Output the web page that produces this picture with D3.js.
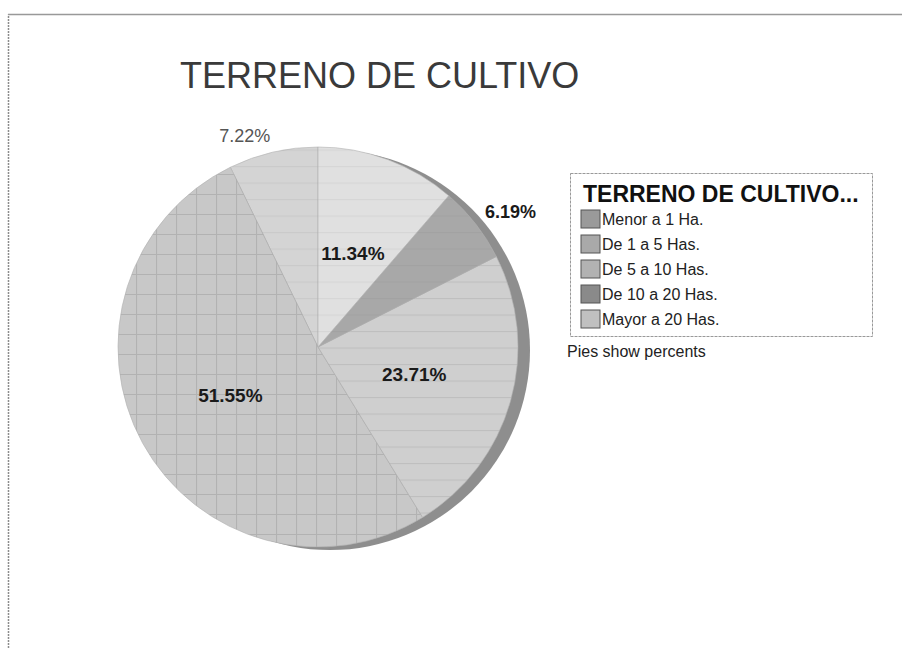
<!DOCTYPE html>
<html>
<head>
<meta charset="utf-8">
<script src="https://cdn.jsdelivr.net/npm/d3@7"></script>
<style>
	body { margin: 0; background: #fff; }
	text { font-family: Arial, "Liberation Sans", sans-serif; }
</style>
</head>
<body>
<svg id="chart" width="902" height="648"></svg>
<script>
const categories = ["Menor a 1 Ha.", "De 1 a 5 Has.", "De 5 a 10 Has.", "De 10 a 20 Has.", "Mayor a 20 Has."];
const percents = [7.22, 51.55, 23.71, 6.19, 11.34];
const labelOutside = [true, false, false, true, false];
const chartTitle = "TERRENO DE CULTIVO";
const legendTitle = "TERRENO DE CULTIVO...";
const footnote = "Pies show percents";

// grey fills: slice pattern ids and legend swatches
const sliceFills = ["url(#p0)", "url(#p1)", "url(#p2)", "url(#p3)", "url(#p4)"];
const swatchColors = ["#9a9a9a", "#a9a9a9", "#b2b2b2", "#8a8a8a", "#c0c0c0"];

const data = categories.map((c, i) => ({ name: c, value: percents[i], outside: labelOutside[i] }));

const svg = d3.select("#chart");
const cx = 318, cy = 347, radius = 200;

// patterns
const defs = svg.append("defs");
function linePattern(id, bg, line, w, h, grid) {
	const p = defs.append("pattern")
		.attr("id", id)
		.attr("patternUnits", "userSpaceOnUse")
		.attr("x", cx).attr("y", cy)
		.attr("width", w).attr("height", h);
	p.append("rect").attr("width", w).attr("height", h).attr("fill", bg);
	p.append("path")
		.attr("d", grid ? `M0 0.5H${w}M0.5 0V${h}` : `M0 0.5H${w}`)
		.attr("stroke", line)
		.attr("stroke-width", 1.2);
}
linePattern("p0", "#d4d4d4", "#cacaca", 20, 16.5, false);
linePattern("p1", "#c8c8c8", "#b2b2b2", 20, 20, true);
linePattern("p2", "#cfcfcf", "#bfbfbf", 20, 16.5, false);
linePattern("p3", "#a8a8a8", "#a2a2a2", 20, 16.5, false);
linePattern("p4", "#e0e0e0", "#d6d6d6", 20, 16.5, false);

// frame
svg.append("path")
	.attr("d", "M8.5 648V14.5")
	.attr("fill", "none")
	.attr("stroke", "#8c8c8c")
	.attr("stroke-width", 1.5)
	.attr("stroke-dasharray", "2,1");
svg.append("path")
	.attr("d", "M8 14.5H902")
	.attr("fill", "none")
	.attr("stroke", "#999")
	.attr("stroke-width", 1.5);

svg.append("text")
	.text(chartTitle)
	.attr("x", 180)
	.attr("y", 88)
	.attr("font-size", 36)
	.attr("fill", "#3a3a3a");

const pie = d3.pie()
	.sort(null)
	.value(d => d.value)
	.startAngle(0)
	.endAngle(-2 * Math.PI);

const arc = d3.arc().innerRadius(0).outerRadius(radius);
const arcs = pie(data);

const g = svg.append("g").attr("transform", `translate(${cx},${cy})`);

// dark side rim
g.append("circle")
	.attr("cx", 12)
	.attr("cy", 3)
	.attr("r", radius)
	.attr("fill", "#8e8e8e");

g.selectAll("path.slice")
	.data(arcs)
	.join("path")
	.attr("class", "slice")
	.attr("d", arc)
	.attr("fill", (d, i) => sliceFills[i])
	.attr("stroke", "#b0b0b0")
	.attr("stroke-width", 0.6);

const fmt = d => d.toFixed(2) + "%";

g.selectAll("text.inner")
	.data(arcs.filter(d => !d.data.outside))
	.join("text")
	.attr("class", "inner")
	.attr("transform", d => `translate(${arc.centroid(d)})`)
	.attr("text-anchor", "middle")
	.attr("dy", "0.36em")
	.attr("font-size", 19)
	.attr("font-weight", "bold")
	.attr("fill", "#1a1a1a")
	.text(d => fmt(d.data.value));

g.selectAll("text.outer")
	.data(arcs.filter(d => d.data.outside))
	.join("text")
	.attr("class", "outer")
	.each(function(d) {
		const a = (d.startAngle + d.endAngle) / 2;
		const x = Math.sin(a) * (radius + 12);
		const y = -Math.cos(a) * (radius + 12);
		d3.select(this)
			.attr("x", x)
			.attr("y", y + 2)
			.attr("text-anchor", x < 0 ? "end" : "start");
	})
	.attr("font-size", 18)
	.attr("font-weight", d => d.data.value < 7 ? "bold" : "normal")
	.attr("fill", d => d.data.value < 7 ? "#1a1a1a" : "#555")
	.text(d => fmt(d.data.value));

// legend
const legend = svg.append("g").attr("transform", "translate(570,173)");

legend.append("rect")
	.attr("x", 0.5).attr("y", 0.5)
	.attr("width", 302).attr("height", 163)
	.attr("fill", "#fff")
	.attr("stroke", "#999")
	.attr("stroke-dasharray", "3,1");

legend.append("text")
	.text(legendTitle)
	.attr("x", 13)
	.attr("y", 29)
	.attr("font-size", 23)
	.attr("font-weight", "bold")
	.attr("fill", "#111");

const item = legend.selectAll("g.item")
	.data(categories)
	.join("g")
	.attr("class", "item")
	.attr("transform", (d, i) => `translate(11,${37 + i * 25})`);

item.append("rect")
	.attr("width", 19)
	.attr("height", 18)
	.attr("fill", (d, i) => swatchColors[i])
	.attr("stroke", "#555");

item.append("text")
	.text(d => d)
	.attr("x", 21)
	.attr("y", 15)
	.attr("font-size", 16)
	.attr("fill", "#222");

svg.append("text")
	.text(footnote)
	.attr("x", 567)
	.attr("y", 357)
	.attr("font-size", 16)
	.attr("fill", "#222");
</script>
</body>
</html>
